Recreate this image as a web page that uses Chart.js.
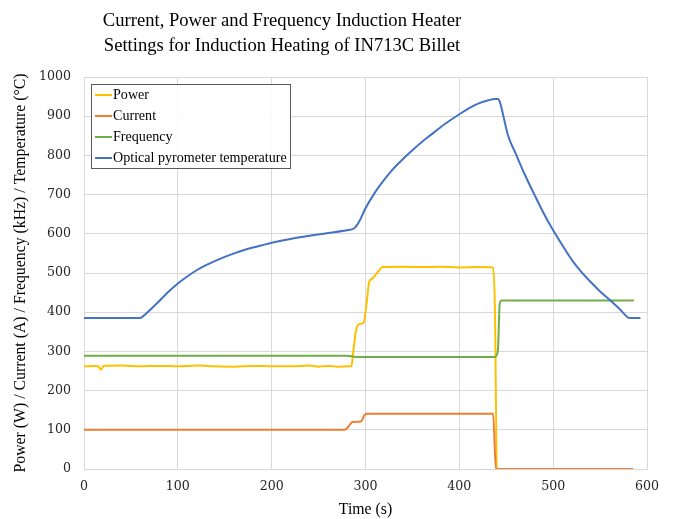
<!DOCTYPE html>
<html>
<head>
<meta charset="utf-8">
<script src="https://cdn.jsdelivr.net/npm/chart.js@4/dist/chart.umd.min.js"></script>
<style>
  html, body { margin: 0; padding: 0; background: #fff; }
  #wrap { position: relative; width: 673px; height: 519px; }
  #title {
    position: absolute; left: 82px; top: 8px; width: 400px;
    text-align: center; font-family: "Liberation Serif", serif;
    font-size: 18.6px; line-height: 24.5px; color: #000; white-space: nowrap;
  }
  canvas { position: absolute; left: 0; top: 0; }
</style>
</head>
<body>
<div id="wrap">
  <canvas id="chart" width="673" height="519"></canvas>
  <div id="title">Current, Power and Frequency Induction Heater<br>Settings for Induction Heating of IN713C Billet</div>
</div>
<script>
// values
const powerTime = [0, 10, 15, 18, 21, 40, 60, 80, 100, 120, 140, 160, 180, 200, 220, 240, 250, 260, 270, 283, 285, 287, 290, 294, 298, 301, 304, 307, 314, 318, 340, 360, 380, 400, 420, 436, 438, 440, 585];
const powerVals = [262, 263, 262, 254, 263, 264, 262, 263, 262, 264, 262, 261, 263, 262, 262, 264, 261, 263, 261, 262, 262, 300, 355, 370, 373, 420, 478, 485, 505, 515, 516, 515, 516, 514, 515, 514, 400, 0, 0];

const currentTime = [0, 278, 283, 286, 295, 299, 301, 436, 439, 585];
const currentVals = [100, 100, 112, 120, 121, 138, 141, 141, 0, 0];

const freqTime = [0, 100, 200, 280, 290, 400, 438, 441, 443, 445, 500, 586];
const freqVals = [289, 289, 289, 289, 286, 286, 286, 300, 420, 430, 430, 430];

const tempTime = [0, 60, 62, 70, 80, 90, 100, 110, 120, 130, 140, 150, 160, 170, 180, 190, 200, 220, 240, 260, 280, 288, 293, 300, 310, 320, 330, 340, 350, 360, 370, 380, 390, 400, 410, 420, 430, 438, 441, 443, 447, 452, 460, 470, 480, 490, 500, 510, 520, 530, 540, 550, 560, 570, 579, 581, 593];
const tempVals = [385, 385, 388, 405, 428, 452, 473, 491, 507, 520, 531, 541, 550, 558, 565, 571, 577, 587, 595, 602, 609, 614, 630, 665, 705, 738, 767, 791, 813, 834, 853, 872, 889, 905, 920, 932, 940, 944, 944, 938, 900, 850, 805, 750, 700, 652, 609, 570, 533, 503, 477, 453, 432, 410, 388, 385, 385];

const seriesNames = ['Power', 'Current', 'Frequency', 'Optical pyrometer temperature'];
const seriesColors = ['#FFC000', '#ED7D31', '#70AD47', '#4472C4'];

const serif = '"Liberation Serif", "Times New Roman", serif';
const tickFont = { family: '"DejaVu Serif", serif', size: 12.6 };

function toPoints(t, v) {
  return t.map((x, i) => ({ x: x, y: v[i] }));
}

const boxLegend = {
  id: 'boxLegend',
  afterDraw(chart) {
    const ctx = chart.ctx;
    ctx.save();
    ctx.fillStyle = 'rgba(255,255,255,0.85)';
    ctx.fillRect(91, 84, 200, 85);
    ctx.strokeStyle = '#595959';
    ctx.lineWidth = 1;
    ctx.strokeRect(91.5, 84.5, 199, 84);
    ctx.font = '14.1px ' + serif;
    ctx.textBaseline = 'middle';
    seriesNames.forEach((name, i) => {
      const y = 95 + i * 21;
      ctx.strokeStyle = seriesColors[i];
      ctx.lineWidth = 2;
      ctx.beginPath();
      ctx.moveTo(95, y);
      ctx.lineTo(112, y);
      ctx.stroke();
      ctx.fillStyle = '#000';
      ctx.fillText(name, 113, y);
    });
    ctx.restore();
  }
};

const datasets = [
  toPoints(powerTime, powerVals),
  toPoints(currentTime, currentVals),
  toPoints(freqTime, freqVals),
  toPoints(tempTime, tempVals),
].map((pts, i) => ({
  label: seriesNames[i],
  data: pts,
  borderColor: seriesColors[i],
  backgroundColor: seriesColors[i],
  borderWidth: 2,
  pointRadius: 0,
  cubicInterpolationMode: 'monotone',
  fill: false,
  order: 3 - i,
}));

new Chart(document.getElementById('chart'), {
  type: 'line',
  data: { datasets },
  plugins: [boxLegend],
  options: {
    responsive: false,
    animation: false,
    layout: { padding: { top: 77, right: 26, bottom: 0, left: 0 } },
    plugins: {
      legend: { display: false },
      title: { display: false },
      tooltip: { enabled: false },
    },
    scales: {
      x: {
        type: 'linear',
        min: 0,
        max: 600,
        ticks: { stepSize: 100, padding: 10, color: '#262626', font: tickFont },
        grid: { color: '#d9d9d9', drawTicks: false },
        border: { color: '#d9d9d9' },
        title: { display: true, text: 'Time (s)', color: '#000', font: { family: serif, size: 15.8 }, padding: { top: 0, bottom: 0 } },
        afterFit(scale) { scale.height = 50; },
      },
      y: {
        min: 0,
        max: 1000,
        ticks: { stepSize: 100, padding: 13, color: '#262626', font: tickFont, callback: v => String(v) },
        grid: { color: '#d9d9d9', drawTicks: false },
        border: { color: '#d9d9d9' },
        title: { display: true, text: 'Power (W) / Current (A) / Frequency (kHz) / Temperature (°C)', color: '#000', font: { family: serif, size: 15.8 }, padding: { top: 11, bottom: 0 } },
        afterFit(scale) { scale.width = 84; },
      },
    },
  },
});
</script>
</body>
</html>
